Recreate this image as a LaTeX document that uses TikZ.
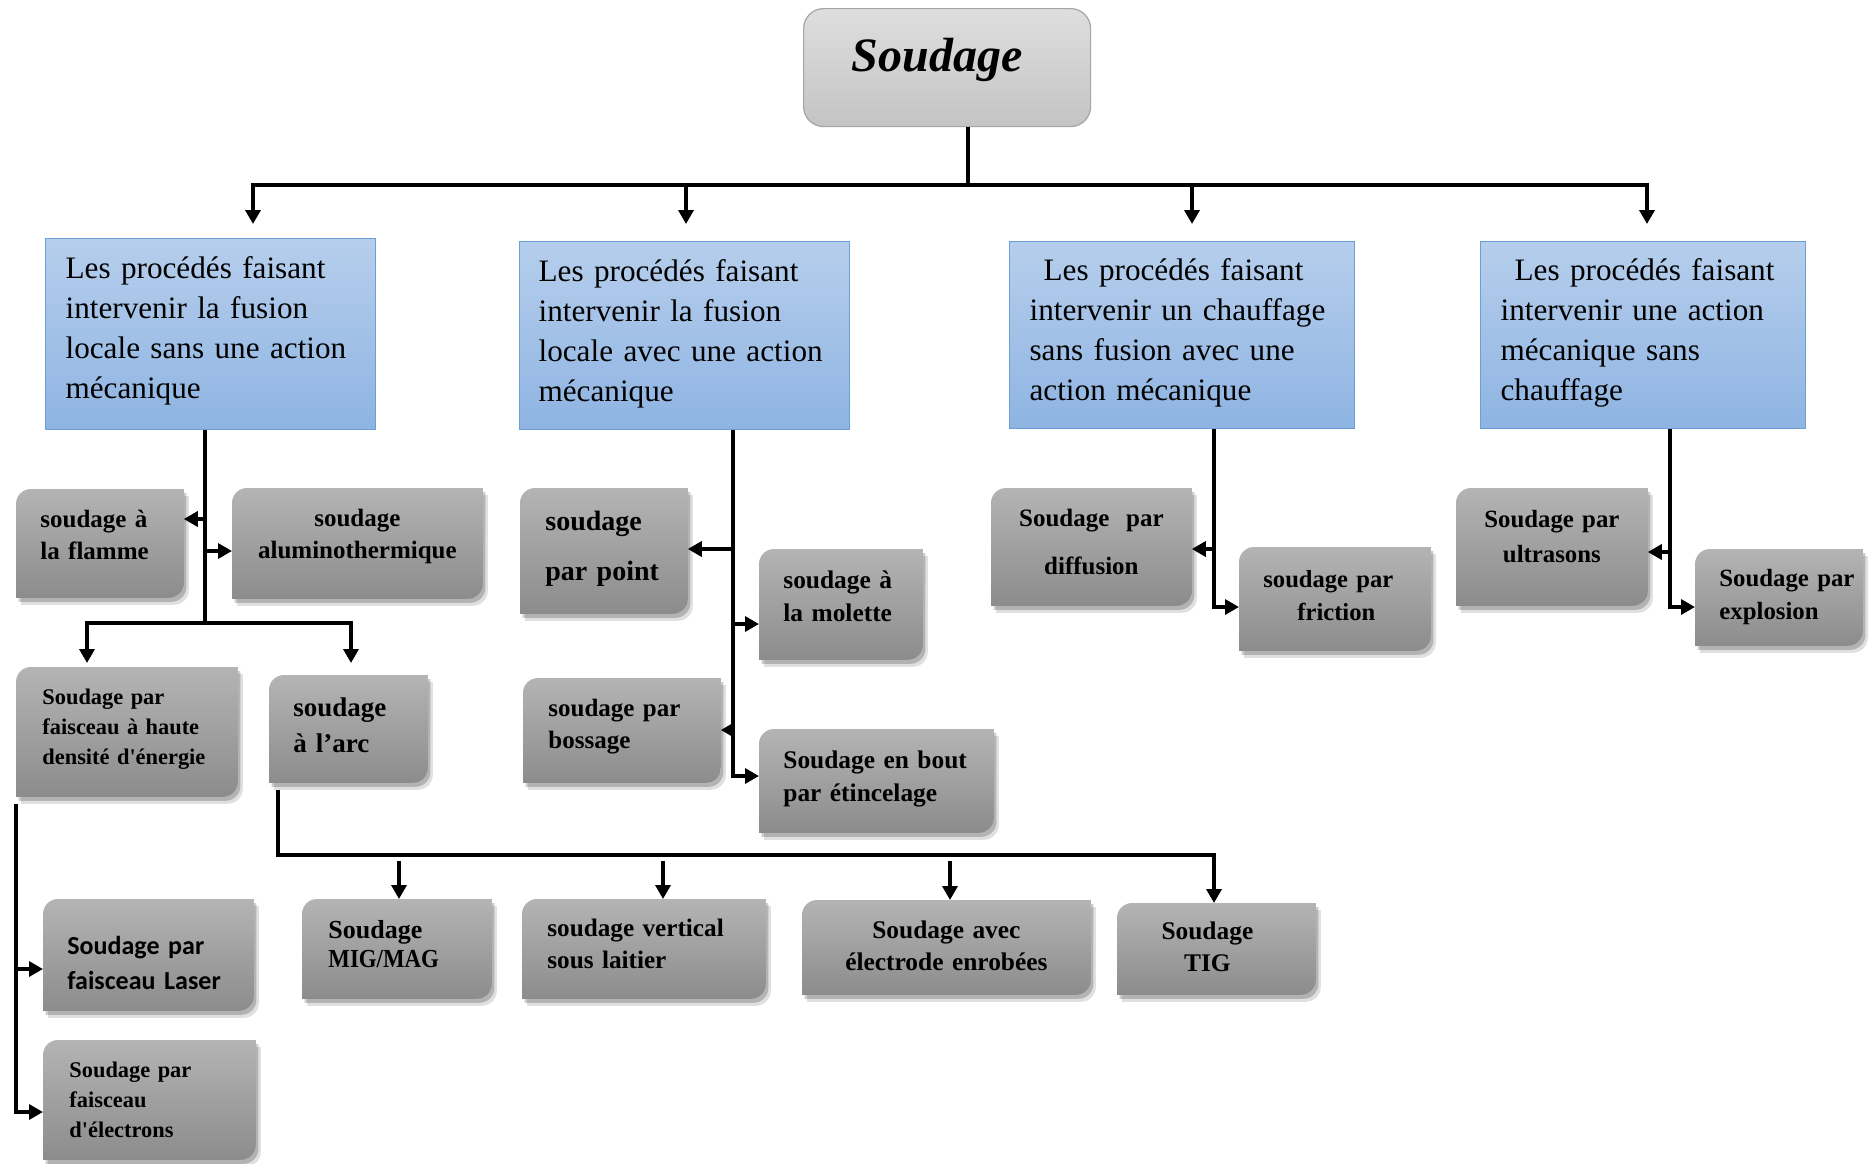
\documentclass[tikz,border=0pt]{standalone}
\usepackage{fontspec}
\setmainfont{Liberation Serif}
\newfontfamily\calibfont{Carlito}
\usepackage{graphicx}
\usetikzlibrary{arrows.meta,calc,backgrounds}
\definecolor{gtop}{RGB}{180,180,180}
\definecolor{gbot}{RGB}{140,140,140}
\definecolor{btop}{RGB}{182,206,236}
\definecolor{bbot}{RGB}{142,180,226}
\definecolor{bdraw}{RGB}{108,158,216}
\definecolor{rtop}{RGB}{222,222,222}
\definecolor{rbot}{RGB}{196,196,196}
\definecolor{rdraw}{RGB}{165,165,165}
\newcommand\vup[1]{\par\kern#1\hrule height0pt width0pt\relax}
\newcommand\gpath[1]{([yshift=-7.5pt]#1.north west) arc[start angle=180,end angle=90,radius=7.5pt] -- (#1.north east) -- ([yshift=7.5pt]#1.south east) arc[start angle=0,end angle=-90,radius=7.5pt] -- (#1.south west) -- cycle}
\newcommand\gshape[1]{%
  \fill[black,opacity=0.12,transform canvas={xshift=2.5pt,yshift=-3.5pt}] \gpath{#1};
  \fill[black,opacity=0.2,transform canvas={xshift=1.3pt,yshift=-2pt}] \gpath{#1};
  \shade[top color=gtop,bottom color=gbot] \gpath{#1};}
\begin{document}
\begin{tikzpicture}[x=0.5pt,y=-0.5pt,
  gbox/.style={rectangle, anchor=north west, inner ysep=0pt, align=left, font=\bfseries\fontsize{12.5}{16}\selectfont},
  bbox/.style={rectangle, anchor=north west, draw=bdraw, line width=0.6pt, top color=btop, bottom color=bbot, inner ysep=0pt, inner xsep=10pt, align=left, font=\fontsize{15.6}{20}\selectfont},
  ln/.style={line width=1.7pt},
  arr/.style={line width=1.7pt, line join=miter, -{Triangle[length=7pt,width=7.5pt]}},
  arrb/.style={line width=1.7pt, line join=miter, {Triangle[length=7pt,width=7.5pt]}-{Triangle[length=7pt,width=7.5pt]}},
]
\useasboundingbox (0,0) rectangle (1874,1163);

% root
\node[draw=rdraw, line width=0.6pt, rounded corners=10pt, top color=rtop, bottom color=rbot, anchor=north west, minimum width=143.5pt, minimum height=59pt, inner sep=0pt, font=\bfseries\itshape\fontsize{24}{28}\selectfont, text height=13.8pt, text depth=10.2pt] (root) at (803,8) {Soudage\kern10pt};

% level 1
\node[bbox, minimum width=165pt, minimum height=95.5pt, text width=145pt] (A) at (45,238) {Les procédés faisant\\intervenir la fusion\\locale sans une action\\mécanique\vup{3.6pt}};
\node[bbox, minimum width=165pt, minimum height=94pt, text width=146pt, inner xsep=9.5pt] (B) at (519,241) {Les procédés faisant\\intervenir la fusion\\locale avec une action\\mécanique\vup{2pt}};
\node[bbox, minimum width=172.5pt, minimum height=93.5pt, text width=152.5pt] (C) at (1009,241) {\hspace*{7pt}Les procédés faisant\\intervenir un chauffage\\sans fusion avec une\\action mécanique\vup{2pt}};
\node[bbox, minimum width=162.5pt, minimum height=93.5pt, text width=142.5pt] (D) at (1480,241) {\hspace*{7pt}Les procédés faisant\\intervenir une action\\mécanique sans\\chauffage\vup{2pt}};

% level 2 (gray)
\node[gbox, minimum width=83.5pt, minimum height=54pt, inner xsep=12pt, text width=59.5pt] (flamme) at (16,489) {soudage à\\la flamme\vup{8.4pt}};
\node[gbox, minimum width=125pt, minimum height=55pt, inner xsep=5pt, text width=115pt, align=center] (alumino) at (232,488) {soudage\\aluminothermique\vup{7.2pt}};
\node[gbox, minimum width=110.5pt, minimum height=64.5pt, inner xsep=13pt, text width=84.5pt, font=\bfseries\fontsize{11.2}{15}\selectfont] (hdens) at (16,667) {Soudage par\\faisceau à haute\\densité d\textquotesingle énergie\vup{2.4pt}};
\node[gbox, minimum width=79pt, minimum height=53.5pt, inner xsep=12pt, text width=55pt, font=\bfseries\fontsize{13.5}{18}\selectfont] (arc) at (269,675) {soudage\\à l’arc\vup{4pt}};
\node[gbox, minimum width=105pt, minimum height=55.5pt, inner xsep=12pt, text width=81pt, font=\calibfont\bfseries\fontsize{13}{17.5}\selectfont] (laser) at (43,899) {Soudage par\\faisceau Laser\vup{-7.8pt}};
\node[gbox, minimum width=106pt, minimum height=59.5pt, inner xsep=13pt, text width=80pt, font=\bfseries\fontsize{11.2}{15}\selectfont] (electrons) at (43,1040) {Soudage par\\faisceau\\d\textquotesingle électrons};
\node[gbox, minimum width=94.5pt, minimum height=49.5pt, inner xsep=13pt, text width=68.5pt, font=\bfseries\fontsize{13}{14.5}\selectfont] (mig) at (302,899) {Soudage\\\scalebox{0.88}[1]{MIG/MAG}\vup{4.8pt}};
\node[gbox, minimum width=121.5pt, minimum height=49.5pt, inner xsep=12.5pt, text width=96.5pt, font=\bfseries\fontsize{12.6}{16}\selectfont] (vertical) at (522,899) {soudage vertical\\sous laitier\vup{4.8pt}};
\node[gbox, minimum width=144pt, minimum height=47pt, inner xsep=5pt, text width=134pt, align=center, font=\bfseries\fontsize{12.7}{16}\selectfont] (electrode) at (802,900) {Soudage avec\\électrode enrobées\vup{1.5pt}};
\node[gbox, minimum width=99pt, minimum height=45.5pt, inner xsep=5pt, text width=89pt, align=center, font=\bfseries\fontsize{12.7}{16}\selectfont] (tig) at (1117,903) {Soudage\kern9pt\\TIG\kern9pt\vup{2.4pt}};
\node[gbox, minimum width=83.5pt, minimum height=62.5pt, inner xsep=12.5pt, text width=58.5pt, font=\bfseries\fontsize{14}{25}\selectfont] (point) at (520,488) {soudage\\par point\vup{2.4pt}};
\node[gbox, minimum width=81.5pt, minimum height=55pt, inner xsep=12pt, text width=57.5pt, font=\bfseries\fontsize{12.7}{16.5}\selectfont] (molette) at (759,549) {soudage à\\la molette\vup{8.4pt}};
\node[gbox, minimum width=98.5pt, minimum height=52pt, inner xsep=12.5pt, text width=73.5pt] (bossage) at (523,678) {soudage par\\bossage\vup{3.6pt}};
\node[gbox, minimum width=117pt, minimum height=51.5pt, inner xsep=12pt, text width=93pt, font=\bfseries\fontsize{12.7}{16.5}\selectfont] (etincelage) at (759,729) {Soudage en bout\\par étincelage\vup{2.4pt}};
\node[gbox, minimum width=100pt, minimum height=58.5pt, inner xsep=5pt, text width=90pt, align=center, font=\bfseries\fontsize{12.5}{24}\selectfont] (diffusion) at (991,488) {Soudage~ par\\diffusion\vup{4.8pt}};
\node[gbox, minimum width=95.5pt, minimum height=51.5pt, inner xsep=12pt, text width=71.5pt, font=\bfseries\fontsize{12.3}{16.5}\selectfont] (friction) at (1239,547) {soudage par\\\hspace*{17pt}friction\vup{3.6pt}};
\node[gbox, minimum width=95.5pt, minimum height=58.5pt, inner xsep=5pt, text width=85.5pt, align=center, font=\bfseries\fontsize{12.4}{17.5}\selectfont] (ultrasons) at (1456,488) {Soudage par\\ultrasons\vup{10pt}};
\node[gbox, minimum width=83.5pt, minimum height=48pt, inner xsep=2pt, text width=79.5pt, font=\bfseries\fontsize{12.4}{16.5}\selectfont] (explosion) at (1695,549) {\hspace*{10pt}Soudage par\\\hspace*{10pt}explosion\vup{0.5pt}};

% background shapes
\begin{scope}[on background layer]
  \fill[white] (0,0) rectangle (1874,1163);
  \foreach \n in {flamme,alumino,hdens,arc,laser,electrons,mig,vertical,electrode,tig,point,molette,bossage,etincelage,diffusion,friction,ultrasons,explosion} {\gshape{\n}}
\end{scope}

% top bus
\coordinate (hub) at (968,185);
\coordinate (b1) at (253,185); \coordinate (b2) at (686,185);
\coordinate (b3) at (1192,185); \coordinate (b4) at (1647,185);
\coordinate (t1) at (253,224); \coordinate (t2) at (686,224);
\coordinate (t3) at (1192,224); \coordinate (t4) at (1647,224);
\draw[line width=2pt] (root.south -| hub) -- (hub);
\draw[arrb, line width=2pt] (t1) -- (b1) -- (b4) -- (t4);
\draw[arr, line width=2pt] (b2) -- (t2);
\draw[arr, line width=2pt] (b3) -- (t3);

% column A
\coordinate (ax) at (205,623);
\draw[ln] (A.south -| ax) -- (ax);
\coordinate (ah1) at (87,623); \coordinate (ah2) at (351,623);
\draw[arrb] ($(ah1 |- hdens.north)+(0,-4)$) -- (ah1) -- (ah2) -- ($(ah2 |- arc.north)+(0,-12)$);
\coordinate (af) at (205,519); \draw[arr] (af) -- (af -| flamme.east);
\coordinate (aa) at (205,551); \draw[arr] (aa) -- (aa -| alumino.west);

% left branch from hdens
\coordinate (hx) at (16,1112); \coordinate (hl) at (16,969);
\draw[arr] ($(hx |- hdens.south)+(0,7)$) -- (hx) -- (hx -| electrons.west);
\draw[arr] (hl) -- (hl -| laser.west);

% column B
\coordinate (bx) at (733,776);
\draw[arr] (B.south -| bx) -- (bx) -- (bx -| etincelage.west);
\coordinate (bp) at (733,549); \draw[arr] (bp) -- (bp -| point.east);
\coordinate (bm) at (733,624); \draw[arr] (bm) -- (bm -| molette.west);
\coordinate (bb) at (733,730); \draw[arr] (bb) -- (bb -| bossage.east);

% column C
\coordinate (cx) at (1214,607);
\draw[arr] (C.south -| cx) -- (cx) -- (cx -| friction.west);
\coordinate (cd) at (1214,549); \draw[arr] (cd) -- (cd -| diffusion.east);

% column D
\coordinate (dx) at (1670,607);
\draw[arr] (D.south -| dx) -- (dx) -- (dx -| explosion.west);
\coordinate (du) at (1670,552); \draw[arr] (du) -- (du -| ultrasons.east);

% arc bus
\coordinate (r0) at (278,855); \coordinate (r4) at (1214,855);
\draw[arr] ($(r0 |- arc.south)+(0,7)$) -- (r0) -- (r4) -- (r4 |- tig.north);
\coordinate (r1) at (399,861); \coordinate (r2) at (663,861); \coordinate (r3) at (950,861);
\draw[arr] (r1) -- (r1 |- mig.north);
\draw[arr] (r2) -- (r2 |- vertical.north);
\draw[arr] (r3) -- (r3 |- electrode.north);
\end{tikzpicture}
\end{document}
